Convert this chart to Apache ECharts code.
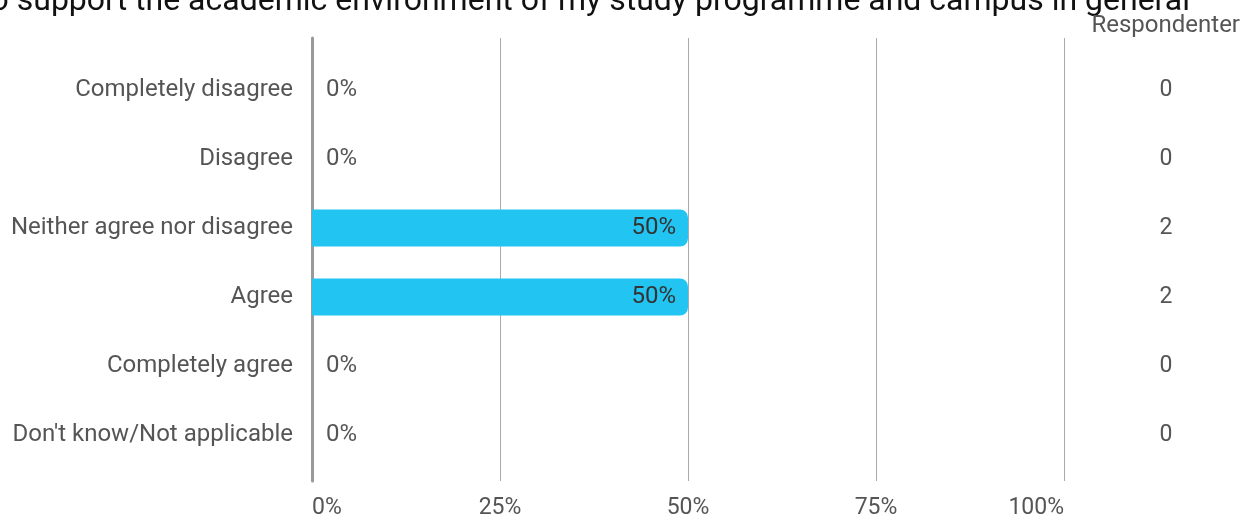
<!DOCTYPE html>
<html>
<head>
<meta charset="utf-8">
<script src="https://cdn.jsdelivr.net/npm/echarts@6/dist/echarts.min.js"></script>
<style>html,body{margin:0;padding:0;background:#fff;}#c{width:1258px;height:520px;}</style>
</head>
<body>
<div id="c"></div>
<script>
const titleText = "to support the academic environment of my study programme and campus in general";
const countHeader = "Respondenter";
const categories = ["Completely disagree", "Disagree", "Neither agree nor disagree", "Agree", "Completely agree", "Don't know/Not applicable"];
const percents = [0, 0, 50, 50, 0, 0];
const counts = [0, 0, 2, 2, 0, 0];
const tickValues = [0, 25, 50, 75, 100];

const chart = echarts.init(document.getElementById('c'));
const font = 'Roboto, "Noto Sans", sans-serif';
chart.setOption({
  animation: false,
  textStyle: { fontFamily: font },
  graphic: [
    { type: 'text', style: { text: titleText, x: 1190, y: 2, textAlign: 'right', textVerticalAlign: 'middle', font: '32px ' + font, fill: '#111' } },
    { type: 'text', style: { text: countHeader, x: 1240, y: 26, textAlign: 'right', textVerticalAlign: 'middle', font: '24px ' + font, fill: '#555' } }
  ],
  grid: [
    { left: 312, right: 194, top: 55.5, height: 414 },
    { left: 312, right: 194, top: 38, bottom: 38 }
  ],
  xAxis: [
    { gridIndex: 0, type: 'value', min: 0, max: 100, show: false },
    { gridIndex: 1, type: 'value', min: 0, max: 100, interval: 25,
      axisLine: { show: false }, axisTick: { show: false },
      splitLine: { show: true, lineStyle: { color: '#aaa', width: 1 } },
      axisLabel: { formatter: v => tickValues.includes(v) ? v + '%' : '', fontSize: 23, color: '#555', margin: 16,
                   alignMinLabel: 'left', alignMaxLabel: 'right' } }
  ],
  yAxis: [
    { gridIndex: 0, type: 'category', inverse: true, data: categories,
      axisLine: { show: false }, axisTick: { show: false },
      axisLabel: { fontSize: 24, color: '#555', margin: 19 } },
    { gridIndex: 0, type: 'category', inverse: true, position: 'right', data: counts.map(String),
      axisLine: { show: false }, axisTick: { show: false },
      axisLabel: { fontSize: 23, color: '#555', margin: 102, align: 'center' } },
    { gridIndex: 1, type: 'value', min: 0, max: 1,
      axisLine: { show: true, lineStyle: { color: '#999', width: 3 } },
      axisTick: { show: false }, axisLabel: { show: false }, splitLine: { show: false } }
  ],
  series: [{
    type: 'bar', xAxisIndex: 0, yAxisIndex: 0,
    barWidth: 37,
    itemStyle: { color: '#22c4f2', borderRadius: [0, 8, 8, 0] },
    label: { show: true, formatter: p => p.value + '%', fontSize: 24, color: '#333' },
    data: percents.map(v => ({
      value: v,
      label: v > 0 ? { position: 'insideRight', distance: 12 } : { position: 'right', distance: 14, color: '#555' }
    }))
  }]
});
</script>
</body>
</html>
